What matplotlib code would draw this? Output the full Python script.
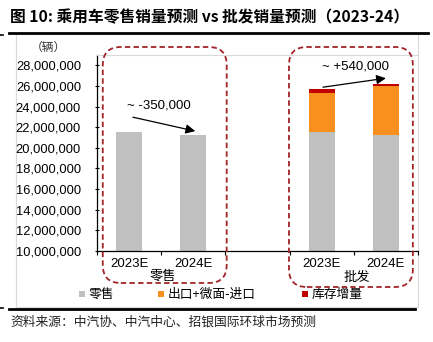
import matplotlib
matplotlib.use("Agg")
import matplotlib.pyplot as plt
from matplotlib.patches import FancyBboxPatch, Rectangle
from matplotlib.lines import Line2D
from matplotlib.ticker import FuncFormatter, MultipleLocator, FixedLocator

# data (vehicles)
cats = ["2023E", "2024E", "", "2023E", "2024E"]
retail = [21550000, 21200000]
wholesale_base = [21550000, 21200000]
export_net = [3770000, 4800000]
stock_change = [360000, 230000]
legend_labels = ["零售", "出口+微面-进口", "库存增量"]
group_labels = ["零售", "批发"]
notes = ["~ -350,000", "~ +540,000"]

gray = "#C0C0C0"
orange = "#F7901E"
red = "#C00000"
box_red = "#A3252B"

W, H = 433, 342
fig = plt.figure(figsize=(W / 100, H / 100), dpi=100)
cjk = ["Noto Sans CJK SC", "DejaVu Sans"]
num = ["Liberation Sans", "Noto Sans CJK SC"]


def fx(x):
    return x / W


def fy(y):
    return 1 - y / H


# outer light frame, drawn under the axes
fig.patches.append(Rectangle((fx(16), fy(307)), 402 / W, 274 / H, transform=fig.transFigure,
                             fill=False, edgecolor="#D9D9D9", lw=0.8, zorder=-1))

ax = fig.add_axes([fx(97), fy(251), 321 / W, 196 / H])

r_pos = [0, 1]
w_pos = [3, 4]
bw = 0.4
ax.bar(r_pos, retail, width=bw, color=gray, zorder=2)
ax.bar(w_pos, wholesale_base, width=bw, color=gray, zorder=2)
top1 = [a + b for a, b in zip(wholesale_base, export_net)]
ax.bar(w_pos, export_net, width=bw, bottom=wholesale_base, color=orange, zorder=2)
ax.bar(w_pos, stock_change, width=bw, bottom=top1, color=red, zorder=2)

ax.set_ylim(10000000, 29000000)
ax.set_xlim(-0.5, 4.5)
ax.yaxis.set_major_locator(MultipleLocator(2000000))
ax.yaxis.set_major_formatter(FuncFormatter(lambda v, p: f"{int(v):,}"))
ax.set_xticks(range(len(cats)))
ax.set_xticklabels(cats)
ax.xaxis.set_minor_locator(FixedLocator([i - 0.5 for i in range(len(cats) + 1)]))
ax.tick_params(axis="x", which="major", length=0, pad=5, labelsize=9.5)
ax.tick_params(axis="x", which="minor", length=3, direction="out", width=0.8)
ax.tick_params(axis="y", length=3, direction="inout", width=0.8, pad=10, labelsize=9.3)
for lab in ax.get_xticklabels() + ax.get_yticklabels():
    lab.set_family(num)
ax.spines["right"].set_visible(False)
ax.spines["top"].set_color("#D9D9D9")
ax.spines["top"].set_linewidth(0.8)
ax.spines["left"].set_linewidth(0.9)
ax.spines["bottom"].set_linewidth(0.9)

# arrows and notes
ax.annotate("", xy=(1.03, 21620000), xytext=(0.06, 22970000),
            arrowprops=dict(arrowstyle="-|>", color="black", lw=0.9,
                            mutation_scale=14, shrinkA=0, shrinkB=0))
ax.annotate("", xy=(4.0, 26750000), xytext=(3.02, 25880000),
            arrowprops=dict(arrowstyle="-|>", color="black", lw=0.9,
                            mutation_scale=14, shrinkA=0, shrinkB=0))
ax.text(-0.03, 24100000, notes[0], fontsize=9.5, family=num, va="center", ha="left")
ax.text(3.0, 27900000, notes[1], fontsize=9.5, family=num, va="center", ha="left")

# dashed rounded boxes
fig.canvas.draw()
inv = fig.transFigure.inverted()
for (x0, x1, ybot) in [(-0.41, 1.52, 283), (2.49, 4.42, 287)]:
    p0 = inv.transform(ax.transData.transform((x0, 10000000)))
    p1 = inv.transform(ax.transData.transform((x1, 10000000)))
    box = FancyBboxPatch((p0[0], fy(ybot)), p1[0] - p0[0], fy(47) - fy(ybot),
                         boxstyle="round,pad=0,rounding_size=%f" % (18 / W),
                         mutation_aspect=W / H, transform=fig.transFigure,
                         fill=False, edgecolor=box_red, lw=1.3,
                         linestyle=(0, (3, 1.8)), zorder=5)
    fig.patches.append(box)

fig.text(fx(163), fy(276), group_labels[0], ha="center", va="center", fontsize=9.5, family=cjk)
fig.text(fx(357), fy(278), group_labels[1], ha="center", va="center", fontsize=9.5, family=cjk)
fig.text(fx(48), fy(47), "（辆）", ha="center", va="center", fontsize=8.5, family=cjk, color="#333333")

# legend
leg_cols = [gray, orange, red]
leg_x = [79, 158, 302]
for c, x, lab in zip(leg_cols, leg_x, legend_labels):
    fig.patches.append(Rectangle((fx(x), fy(297)), 6 / W, 6 / H, transform=fig.transFigure,
                                 facecolor=c, edgecolor="none"))
    fig.text(fx(x + 10), fy(294), lab, ha="left", va="center", fontsize=9.2, family=cjk)

# rules
fig.add_artist(Line2D([fx(9), fx(428)], [fy(32.5), fy(32.5)], color="black", lw=2))
fig.add_artist(Line2D([fx(9), fx(415)], [fy(309), fy(309)], color="black", lw=2))
fig.add_artist(Line2D([fx(0), fx(3)], [fy(35), fy(35)], color="black", lw=1.2))
fig.add_artist(Line2D([fx(0), fx(3)], [fy(308), fy(308)], color="black", lw=1.2))

fig.text(fx(10), fy(17), "图 10: 乘用车零售销量预测 vs 批发销量预测（2023-24）",
         ha="left", va="center", fontsize=11.3, fontweight="bold", family=cjk)
fig.text(fx(10), fy(322), "资料来源：中汽协、中汽中心、招银国际环球市场预测",
         ha="left", va="center", fontsize=9.2, family=cjk, color="#222222")

fig.savefig("out.png", dpi=100)
